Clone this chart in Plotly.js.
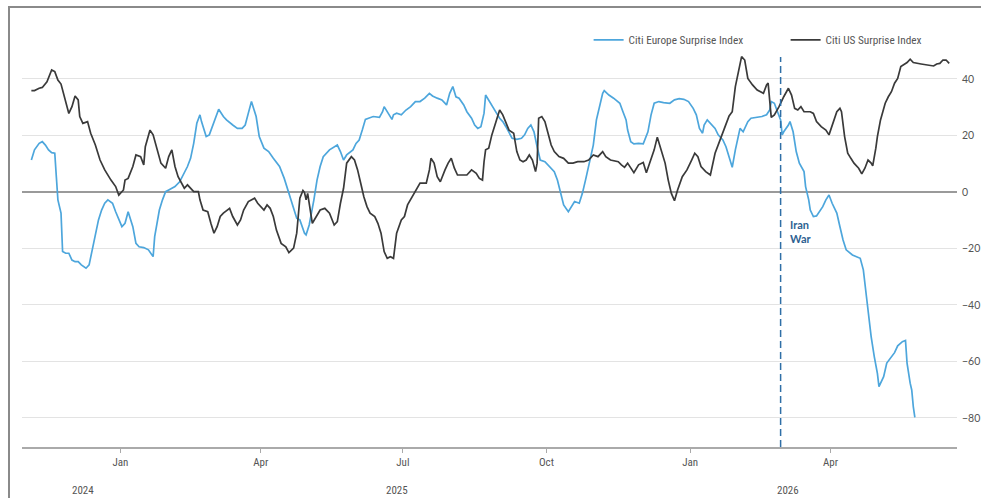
<!DOCTYPE html>
<html>
<head>
<meta charset="utf-8">
<script src="https://cdn.plot.ly/plotly-3.0.1.min.js"></script>
<style>
  html, body { margin: 0; padding: 0; background: #ffffff; }
  #wrap { position: relative; width: 981px; height: 498px; overflow: hidden; }
  #chart { position: absolute; left: 0; top: 0; width: 981px; height: 498px; }
  #frame { position: absolute; left: 8px; top: 6px; width: 980px; height: 500px;
           border-left: 2px solid #8a8a8a; border-top: 2px solid #8a8a8a; pointer-events: none; }
</style>
</head>
<body>
<div id="wrap">
  <div id="chart"></div>
  <div id="frame"></div>
</div>
<script>
// ---------- DATA ----------
const seriesNames = ['Citi Europe Surprise Index', 'Citi US Surprise Index'];

const usDates = ['2024-11-05','2024-11-07','2024-11-10','2024-11-12','2024-11-15','2024-11-18','2024-11-20','2024-11-22','2024-11-24','2024-11-26','2024-11-29','2024-12-01','2024-12-03','2024-12-05','2024-12-06','2024-12-08','2024-12-11','2024-12-13','2024-12-16','2024-12-19','2024-12-22','2024-12-26','2024-12-29','2024-12-31','2025-01-03','2025-01-04','2025-01-06','2025-01-09','2025-01-11','2025-01-14','2025-01-16','2025-01-17','2025-01-20','2025-01-22','2025-01-25','2025-01-27','2025-01-30','2025-02-01','2025-02-03','2025-02-05','2025-02-07','2025-02-11','2025-02-13','2025-02-15','2025-02-17','2025-02-20','2025-02-21','2025-02-23','2025-02-26','2025-02-28','2025-03-02','2025-03-04','2025-03-06','2025-03-08','2025-03-12','2025-03-14','2025-03-17','2025-03-19','2025-03-21','2025-03-24','2025-03-28','2025-03-30','2025-04-01','2025-04-03','2025-04-05','2025-04-07','2025-04-09','2025-04-11','2025-04-14','2025-04-17','2025-04-19','2025-04-22','2025-04-24','2025-04-26','2025-04-28','2025-04-29','2025-04-30','2025-05-01','2025-05-04','2025-05-06','2025-05-09','2025-05-12','2025-05-15','2025-05-18','2025-05-20','2025-05-22','2025-05-24','2025-05-26','2025-05-29','2025-05-31','2025-06-02','2025-06-04','2025-06-06','2025-06-08','2025-06-10','2025-06-13','2025-06-15','2025-06-17','2025-06-19','2025-06-21','2025-06-23','2025-06-25','2025-06-27','2025-06-30','2025-07-02','2025-07-04','2025-07-07','2025-07-09','2025-07-12','2025-07-16','2025-07-18','2025-07-19','2025-07-21','2025-07-23','2025-07-25','2025-07-28','2025-07-30','2025-08-01','2025-08-03','2025-08-05','2025-08-08','2025-08-11','2025-08-14','2025-08-17','2025-08-19','2025-08-21','2025-08-22','2025-08-23','2025-08-25','2025-08-27','2025-08-30','2025-09-01','2025-09-03','2025-09-05','2025-09-07','2025-09-10','2025-09-12','2025-09-14','2025-09-16','2025-09-18','2025-09-20','2025-09-22','2025-09-24','2025-09-25','2025-09-26','2025-09-28','2025-09-30','2025-10-02','2025-10-04','2025-10-06','2025-10-09','2025-10-12','2025-10-15','2025-10-18','2025-10-21','2025-10-25','2025-10-28','2025-10-31','2025-11-03','2025-11-06','2025-11-08','2025-11-11','2025-11-16','2025-11-18','2025-11-20','2025-11-22','2025-11-24','2025-11-26','2025-11-29','2025-12-02','2025-12-04','2025-12-07','2025-12-09','2025-12-11','2025-12-13','2025-12-16','2025-12-18','2025-12-20','2025-12-22','2025-12-24','2025-12-27','2025-12-30','2026-01-02','2026-01-04','2026-01-06','2026-01-08','2026-01-11','2026-01-14','2026-01-17','2026-01-20','2026-01-23','2026-01-26','2026-01-28','2026-01-30','2026-02-02','2026-02-03','2026-02-05','2026-02-07','2026-02-10','2026-02-13','2026-02-17','2026-02-19','2026-02-20','2026-02-22','2026-02-24','2026-02-27','2026-03-02','2026-03-05','2026-03-07','2026-03-09','2026-03-11','2026-03-13','2026-03-15','2026-03-19','2026-03-21','2026-03-23','2026-03-26','2026-03-29','2026-03-31','2026-04-02','2026-04-05','2026-04-07','2026-04-08','2026-04-10','2026-04-12','2026-04-14','2026-04-16','2026-04-19','2026-04-21','2026-04-23','2026-04-25','2026-04-27','2026-04-28','2026-04-30','2026-05-01','2026-05-03','2026-05-06','2026-05-08','2026-05-10','2026-05-12','2026-05-14','2026-05-16','2026-05-20','2026-05-22','2026-05-24','2026-05-29','2026-06-02','2026-06-06','2026-06-08','2026-06-10','2026-06-12','2026-06-14','2026-06-16'];
const usValues = [35.9,35.9,36.7,37,39,43.2,42.6,39.6,38.2,34.3,27.8,30.2,34,32.6,26.7,24.3,24.9,20.8,16.6,11.3,7.8,4.2,1.9,-1.1,0.7,4.2,4.8,9,13.1,12.5,9.6,16,21.9,20.2,13.7,10.2,8.4,12.5,14.9,9,5.4,1.3,2.5,1.3,0.1,0.1,-2.8,-6.4,-7,-11.1,-14.6,-12.3,-8.7,-7.5,-5.8,-8.7,-11.7,-9.9,-6.4,-3.4,-2.2,-4,-5.2,-6.4,-4.6,-5.8,-8.7,-13.5,-18.2,-19.4,-21.5,-19.9,-14.6,-2.2,0.5,-0.2,-2.8,-0.5,-11.1,-9.3,-6.4,-5.8,-7.5,-11.7,-10.5,-4,1.3,10.2,12.5,11.3,7.8,3.1,-1.7,-5.2,-7.5,-8.7,-11.1,-14.6,-21.1,-23.5,-22.9,-23.5,-14.6,-9.9,-8.7,-4.6,-1.7,0.1,3.1,3.1,7.8,11.9,10.2,5.4,3.6,7.8,10.2,11.9,8.4,6,6,6,7.8,6.6,4.8,4.2,10.7,14.9,15.5,20.2,25.5,29,27.3,24.3,21.9,20.8,14.3,11.3,10.7,11.3,13.1,11.3,7.2,10.2,26.1,26.7,24.9,20.8,16.6,14.3,12.5,11.9,10.2,10.2,10.7,10.7,11.3,13.1,12.5,14.3,12.5,11.3,10.7,9.6,8.7,10.2,8.4,6.8,9.6,10.4,6.8,11.9,14.9,19.4,16,10.2,4.2,-0.5,-3.1,0.7,5.4,7.8,11.3,13.7,12.5,9,7.2,6,13.7,18.4,22.5,26.9,28.4,37.3,46.1,47.9,46.7,40.2,37.9,36.1,34.9,37.9,38.5,26.4,27.3,30.2,33.7,36.7,34.3,29.6,29,30.2,28.4,28.4,27.8,24.9,23.1,21.9,20.2,23.7,28.4,29.6,28.4,19.6,13.7,11.9,10.2,8.4,6.4,8.4,11.3,10.2,9.2,15.5,19.6,25.5,31.4,33.7,35.5,38.5,40.2,44.4,45.8,47,45.8,45.3,45,44.6,45.3,45.5,46.7,46.7,45.5];

const euDates = ['2024-11-05','2024-11-07','2024-11-10','2024-11-12','2024-11-14','2024-11-16','2024-11-18','2024-11-20','2024-11-21','2024-11-22','2024-11-24','2024-11-25','2024-11-27','2024-11-29','2024-12-01','2024-12-03','2024-12-05','2024-12-07','2024-12-10','2024-12-12','2024-12-14','2024-12-16','2024-12-18','2024-12-20','2024-12-22','2024-12-24','2024-12-27','2024-12-29','2024-12-31','2025-01-02','2025-01-04','2025-01-06','2025-01-09','2025-01-11','2025-01-13','2025-01-16','2025-01-19','2025-01-22','2025-01-23','2025-01-26','2025-01-28','2025-01-30','2025-02-01','2025-02-03','2025-02-05','2025-02-08','2025-02-11','2025-02-13','2025-02-15','2025-02-17','2025-02-19','2025-02-21','2025-02-22','2025-02-25','2025-02-27','2025-03-02','2025-03-05','2025-03-08','2025-03-10','2025-03-14','2025-03-17','2025-03-20','2025-03-22','2025-03-24','2025-03-26','2025-03-29','2025-03-31','2025-04-03','2025-04-06','2025-04-09','2025-04-13','2025-04-16','2025-04-19','2025-04-22','2025-04-24','2025-04-26','2025-04-29','2025-04-30','2025-05-02','2025-05-05','2025-05-07','2025-05-09','2025-05-11','2025-05-15','2025-05-18','2025-05-20','2025-05-22','2025-05-24','2025-05-26','2025-05-30','2025-06-01','2025-06-03','2025-06-05','2025-06-07','2025-06-09','2025-06-12','2025-06-16','2025-06-18','2025-06-19','2025-06-21','2025-06-24','2025-06-25','2025-06-27','2025-06-30','2025-07-03','2025-07-06','2025-07-09','2025-07-12','2025-07-15','2025-07-18','2025-07-20','2025-07-23','2025-07-26','2025-07-29','2025-07-31','2025-08-02','2025-08-04','2025-08-06','2025-08-09','2025-08-11','2025-08-14','2025-08-16','2025-08-18','2025-08-20','2025-08-22','2025-08-23','2025-08-25','2025-08-27','2025-08-30','2025-09-01','2025-09-03','2025-09-05','2025-09-07','2025-09-09','2025-09-12','2025-09-15','2025-09-17','2025-09-19','2025-09-21','2025-09-23','2025-09-25','2025-09-27','2025-09-30','2025-10-03','2025-10-06','2025-10-08','2025-10-10','2025-10-12','2025-10-15','2025-10-17','2025-10-19','2025-10-22','2025-10-24','2025-10-26','2025-10-28','2025-10-31','2025-11-02','2025-11-04','2025-11-06','2025-11-07','2025-11-10','2025-11-13','2025-11-17','2025-11-19','2025-11-21','2025-11-22','2025-11-24','2025-11-26','2025-11-29','2025-12-02','2025-12-05','2025-12-07','2025-12-09','2025-12-12','2025-12-15','2025-12-19','2025-12-22','2025-12-25','2025-12-28','2025-12-31','2026-01-03','2026-01-05','2026-01-07','2026-01-09','2026-01-10','2026-01-12','2026-01-14','2026-01-17','2026-01-19','2026-01-22','2026-01-24','2026-01-26','2026-01-28','2026-01-30','2026-02-01','2026-02-02','2026-02-04','2026-02-07','2026-02-09','2026-02-12','2026-02-16','2026-02-19','2026-02-21','2026-02-22','2026-02-24','2026-02-26','2026-02-28','2026-03-01','2026-03-02','2026-03-05','2026-03-06','2026-03-08','2026-03-10','2026-03-12','2026-03-15','2026-03-16','2026-03-18','2026-03-19','2026-03-21','2026-03-23','2026-03-25','2026-03-27','2026-03-29','2026-03-31','2026-04-02','2026-04-05','2026-04-07','2026-04-09','2026-04-11','2026-04-15','2026-04-20','2026-04-22','2026-04-24','2026-04-26','2026-04-27','2026-04-29','2026-05-01','2026-05-02','2026-05-05','2026-05-07','2026-05-10','2026-05-12','2026-05-14','2026-05-17','2026-05-19','2026-05-20','2026-05-22','2026-05-23','2026-05-24','2026-05-25'];
const euValues = [11.3,14.9,17.2,17.8,16.6,14.9,13.9,13.7,5.4,-2.8,-7.5,-21.1,-21.7,-21.7,-24.1,-24.7,-24.7,-25.8,-27,-25.8,-20.5,-14.6,-9.9,-6.4,-4,-2.8,-4,-7,-9.9,-12.3,-11.1,-7,-12.3,-18.2,-19.4,-19.7,-20.5,-22.9,-15.8,-6.4,-2.8,0.1,0.7,1.3,1.9,3.6,6.6,9,11.9,17.2,24.3,27.3,24.9,19.6,20.2,24.9,29.3,26.7,25.5,23.7,22.5,22.5,23.7,27.9,32,26.7,19.6,15.5,14.3,11.9,9,4.8,-0.5,-5.2,-9.3,-9.9,-14.6,-15.2,-11.7,-2.8,4.2,9,12.5,14.9,15.8,16.6,14.3,11.3,13.1,14.9,17.2,18.4,21.9,25.7,26.1,26.7,26.4,28.4,30.2,28.4,25.7,27.3,27.9,27.3,29,30.2,32,32,33.2,34.9,34,33.2,32.6,30.8,34.9,37.3,33.7,33.2,30.8,28.4,26.1,23.7,22.5,23.1,27.9,34.3,32.6,30.8,27.9,26.1,24.9,23.1,20.8,19,18.6,19,20.2,22.5,23.7,21.3,16,11.3,10.7,9,7.2,4.2,-0.5,-4.6,-7,-5.2,-3.4,-4,-0.5,4.2,9,16.6,25.5,30.2,34.9,35.9,34.3,33.2,31.4,28.4,25.5,21.9,17.8,17,17.2,17,21.3,27.3,31.4,32,31.6,31.4,32.6,33,32.8,32,29.6,27.3,22.5,20.8,23.7,25.5,24.3,22.5,20.2,18.4,16,12.5,8.7,14.9,20.8,22.5,21.3,24.9,26.1,26.4,26.7,27.3,29,32,31.4,28.4,25.5,20.2,21.3,23.7,24.9,21.3,14.3,10.2,7.2,1.9,-2.8,-6.4,-8.7,-8.5,-7,-5.2,-2.8,-1.1,-4,-7.5,-12.3,-17,-20.5,-22.3,-23.5,-27.6,-37.1,-46.5,-51.2,-58.3,-64.2,-68.9,-65.4,-60.6,-58.5,-56.9,-54.5,-53,-52.6,-60.6,-67.7,-70.1,-76,-79.8];

const eventDate = '2026-02-28';
const eventLabel = 'Iran<br>War';
const yearLabels = ['2024', '2025', '2026'];
const yearLabelDates = ['2024-12-08', '2025-06-27', '2026-03-05'];

// ---------- STYLE ----------
const euColor = '#4da6dc';
const usColor = '#3a3a3a';
const fontFam = 'Liberation Sans Narrow, Roboto Condensed, DejaVu Sans Condensed, Lato, sans-serif';

const traces = [
  { x: euDates, y: euValues, name: seriesNames[0], type: 'scatter', mode: 'lines',
    line: { color: euColor, width: 1.7 } },
  { x: usDates, y: usValues, name: seriesNames[1], type: 'scatter', mode: 'lines',
    line: { color: usColor, width: 1.7 } }
];

const annotations = [
  { x: eventDate, y: -14, xref: 'x', yref: 'y', text: '<b>' + eventLabel + '</b>',
    showarrow: false, xanchor: 'left', yanchor: 'middle', align: 'left', xshift: 7,
    font: { family: 'Lato, sans-serif', size: 11, color: '#2d6191' } }
];
yearLabels.forEach((t, i) => annotations.push({
  x: yearLabelDates[i], y: -0.088, xref: 'x', yref: 'paper', text: t, showarrow: false,
  xanchor: 'center', yanchor: 'top', font: { family: fontFam, size: 11, color: '#555' }
}));

const layout = {
  width: 981, height: 498,
  margin: { l: 22, r: 24, t: 51, b: 51, pad: 0, autoexpand: false },
  paper_bgcolor: '#ffffff', plot_bgcolor: '#ffffff',
  font: { family: fontFam, size: 11, color: '#555' },
  showlegend: true,
  legend: { orientation: 'h', x: 0.606, xanchor: 'left', y: 1.028, yanchor: 'middle',
            entrywidth: 152, entrywidthmode: 'pixels',
            font: { family: fontFam, size: 11.3, color: '#555' }, bgcolor: 'rgba(0,0,0,0)' },
  xaxis: {
    type: 'date', range: ['2024-10-30', '2026-06-21'],
    tick0: '2025-01-01', dtick: 'M3', tickformat: '%b',
    showgrid: false, zeroline: false,
    showline: true, linecolor: '#aaaaaa', linewidth: 1.5,
    ticks: 'outside', ticklen: 4, tickcolor: '#aaaaaa', tickwidth: 1,
    tickfont: { family: fontFam, size: 11, color: '#555' }
  },
  yaxis: {
    side: 'right', range: [-90.3, 49.9], tickvals: [-80, -60, -40, -20, 0, 20, 40],
    showgrid: true, gridcolor: '#e3e3e3', gridwidth: 1,
    zeroline: true, zerolinecolor: '#9a9a9a', zerolinewidth: 1.5,
    showline: false, ticks: '', ticklabelstandoff: 4,
    tickfont: { family: 'Lato, sans-serif', size: 10.5, color: '#555' }
  },
  shapes: [
    { type: 'line', xref: 'x', yref: 'paper', x0: eventDate, x1: eventDate, y0: 0, y1: 0.985,
      line: { color: '#2f6fa7', width: 1.5, dash: '7px,4px' } }
  ],
  annotations: annotations
};

Plotly.newPlot('chart', traces, layout, { staticPlot: true, displayModeBar: false });
</script>
</body>
</html>
